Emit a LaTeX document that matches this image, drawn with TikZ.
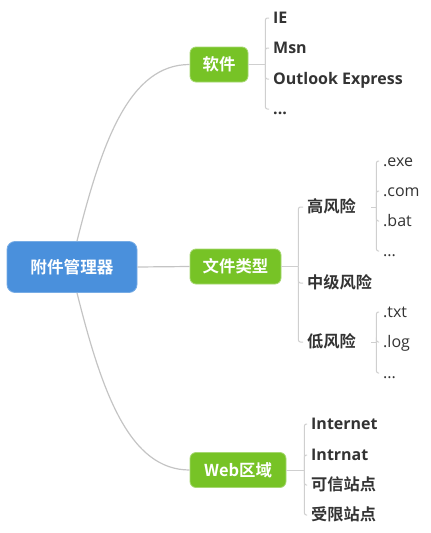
\documentclass[tikz,border=0pt]{standalone}
\usepackage{fontspec}
\setmainfont{Open Sans}
\newfontfamily\cjk{Noto Sans CJK SC}[BoldFont={Noto Sans CJK SC Bold}]
\definecolor{rootblue}{HTML}{4A90DC}
\definecolor{topicgreen}{HTML}{77C326}
\definecolor{linegray}{HTML}{C4C4C4}
\definecolor{twiggray}{HTML}{CFCFCF}
\definecolor{textgray}{HTML}{333333}
\tikzset{
    rootbox/.style={rounded corners=8pt, fill=rootblue, draw=rootblue!75!white, line width=0.8pt,
        minimum width=130pt, minimum height=51pt, text=white, font=\cjk\bfseries\fontsize{16.6}{17}\selectfont},
    topicbox/.style={rounded corners=6pt, fill=topicgreen, draw=topicgreen!65!white, line width=0.8pt,
        minimum height=35pt, text=white, font=\cjk\bfseries\fontsize{16.4}{17}\selectfont},
    leaf/.style={anchor=west, inner sep=0pt, text height=11pt, text depth=1pt, text=textgray,
        font=\bfseries\fontsize{16}{17}\selectfont},
    cjkleaf/.style={leaf, font=\cjk\bfseries\fontsize{16.2}{17}\selectfont},
    extleaf/.style={leaf, font=\fontsize{16}{17}\selectfont},
    mainline/.style={draw=linegray, line width=1.2pt},
    hubline/.style={draw=twiggray, line width=1pt, rounded corners=2pt},
}
\newcommand\Hub[3]{%
    \draw[hubline] (#1.east) -- ++(#2,0) coordinate (#3);
}
\newcommand\Twig[2]{%
    \draw[hubline] (#1) |- ([xshift=-4pt]#2.west);
}

\begin{document}
\begin{tikzpicture}[x=1pt,y=-1pt]
    \useasboundingbox (0,0) rectangle (431,533);
    \node[rootbox] (root) at (72,267) {附件管理器};
    \node[topicbox, minimum width=58pt] (soft) at (219,64.5) {软件};
    \node[topicbox, minimum width=91pt] (ftype) at (235.5,266.5) {文件类型};
    \node[topicbox, minimum width=96pt] (web) at (238,470) {Web区域};
    % main branches
    \draw[mainline] ([xshift=5pt]root.north) .. controls +(25,-100) and +(-60,0) .. (soft.west);
    \draw[mainline] (root.east) -- (ftype.west);
    \draw[mainline] ([xshift=5pt]root.south) .. controls +(25,100) and +(-60,0) .. (web.west);
    % software
    \node[leaf] (ie) at (273,18) {IE};
    \node[leaf] (msn) at (273,48) {Msn};
    \node[leaf] (outlook) at (273,79) {Outlook Express};
    \node[leaf] (softmore) at (273,109) {...};
    \Hub{soft}{17}{softhub}
    \Twig{softhub}{ie}
    \Twig{softhub}{msn}
    \Twig{softhub}{outlook}
    \Twig{softhub}{softmore}
    % file types
    \node[cjkleaf, text width=64pt] (high) at (307,207) {高风险};
    \node[cjkleaf, text width=64pt] (mid) at (307,283) {中级风险};
    \node[cjkleaf, text width=64pt] (low) at (307,342) {低风险};
    \Hub{ftype}{17}{ftypehub}
    \Twig{ftypehub}{high}
    \Twig{ftypehub}{mid}
    \Twig{ftypehub}{low}
    \node[extleaf] (exe) at (383,161) {.exe};
    \node[extleaf] (com) at (383,191) {.com};
    \node[extleaf] (bat) at (383,221) {.bat};
    \node[extleaf] (highmore) at (383,251) {...};
    \Hub{high}{5}{highhub}
    \Twig{highhub}{exe}
    \Twig{highhub}{com}
    \Twig{highhub}{bat}
    \Twig{highhub}{highmore}
    \node[extleaf] (txt) at (383,312) {.txt};
    \node[extleaf] (log) at (383,342) {.log};
    \node[extleaf] (lowmore) at (383,373) {...};
    \Hub{low}{5}{lowhub}
    \Twig{lowhub}{txt}
    \Twig{lowhub}{log}
    \Twig{lowhub}{lowmore}
    % web zones
    \node[leaf] (internet) at (311,424) {Internet};
    \node[leaf] (intranet) at (311,455) {Intrnat};
    \node[cjkleaf] (trusted) at (311,485) {可信站点};
    \node[cjkleaf] (restricted) at (311,515) {受限站点};
    \Hub{web}{18}{webhub}
    \Twig{webhub}{internet}
    \Twig{webhub}{intranet}
    \Twig{webhub}{trusted}
    \Twig{webhub}{restricted}
\end{tikzpicture}
\end{document}
